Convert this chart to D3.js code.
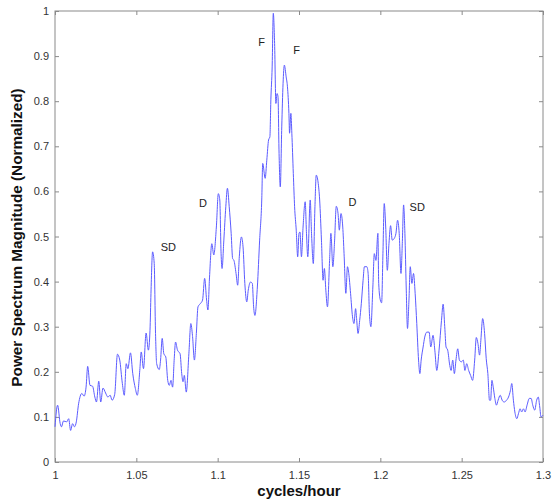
<!DOCTYPE html>
<html>
<head>
<meta charset="utf-8">
<script src="https://cdn.jsdelivr.net/npm/d3@7"></script>
<style>
  html, body { margin: 0; padding: 0; background: #fff; }
  svg { display: block; }
  text { font-family: Arial, "Liberation Sans", sans-serif; }
</style>
</head>
<body>
<div id="chart"></div>
<script>
// Frequency (cycles/hour) samples of the normalized power spectrum
const freq = [
  1.0000,1.0016,1.0032,1.0040,1.0052,1.0072,1.0084,1.0096,1.0108,1.0120,1.0131,1.0145,1.0165,1.0179,1.0191,1.0201,
  1.0215,1.0231,1.0245,1.0255,1.0269,1.0281,1.0295,1.0311,1.0325,1.0339,1.0351,1.0367,1.0384,1.0398,1.0414,1.0426,
  1.0438,1.0448,1.0464,1.0478,1.0494,1.0506,1.0522,1.0530,1.0544,1.0560,1.0574,1.0584,1.0590,1.0600,1.0610,1.0618,
  1.0625,1.0641,1.0649,1.0659,1.0669,1.0681,1.0693,1.0703,1.0713,1.0723,1.0733,1.0741,1.0753,1.0769,1.0779,1.0787,
  1.0795,1.0807,1.0823,1.0835,1.0845,1.0857,1.0869,1.0879,1.0893,1.0907,1.0920,1.0932,1.0940,1.0950,1.0964,1.0976,
  1.0992,1.1004,1.1013,1.1021,1.1027,1.1038,1.1050,1.1060,1.1071,1.1083,1.1092,1.1100,1.1113,1.1123,1.1133,1.1146,
  1.1156,1.1167,1.1179,1.1188,1.1202,1.1213,1.1221,1.1229,1.1244,1.1258,1.1271,1.1277,1.1292,1.1302,1.1313,1.1321,
  1.1327,1.1335,1.1342,1.1350,1.1358,1.1365,1.1371,1.1377,1.1385,1.1394,1.1402,1.1410,1.1421,1.1429,1.1438,1.1442,
  1.1450,1.1456,1.1465,1.1473,1.1483,1.1492,1.1500,1.1506,1.1515,1.1525,1.1538,1.1546,1.1554,1.1569,1.1577,1.1588,
  1.1598,1.1606,1.1617,1.1627,1.1638,1.1648,1.1656,1.1665,1.1675,1.1688,1.1696,1.1708,1.1719,1.1729,1.1740,1.1748,
  1.1758,1.1769,1.1777,1.1788,1.1798,1.1806,1.1817,1.1829,1.1838,1.1848,1.1854,1.1863,1.1873,1.1883,1.1894,1.1902,
  1.1917,1.1925,1.1933,1.1942,1.1954,1.1963,1.1973,1.1985,1.1990,1.2000,1.2008,1.2016,1.2024,1.2033,1.2043,1.2053,
  1.2063,1.2073,1.2086,1.2096,1.2106,1.2116,1.2127,1.2135,1.2143,1.2151,1.2159,1.2167,1.2176,1.2184,1.2194,1.2204,
  1.2214,1.2224,1.2235,1.2243,1.2251,1.2263,1.2273,1.2286,1.2300,1.2310,1.2324,1.2335,1.2347,1.2361,1.2376,1.2386,
  1.2396,1.2404,1.2414,1.2427,1.2435,1.2445,1.2455,1.2465,1.2476,1.2486,1.2498,1.2510,1.2520,1.2531,1.2543,1.2555,
  1.2567,1.2580,1.2590,1.2600,1.2610,1.2618,1.2629,1.2641,1.2651,1.2661,1.2671,1.2678,1.2686,1.2694,1.2704,1.2714,
  1.2724,1.2737,1.2749,1.2761,1.2776,1.2788,1.2800,1.2808,1.2818,1.2827,1.2839,1.2849,1.2859,1.2869,1.2880,1.2890,
  1.2902,1.2916,1.2927,1.2937,1.2949,1.2961,1.2971,1.2980,1.2988,1.3000
];

// Normalized power spectrum magnitude at each frequency
const magnitude = [
  0.078,0.126,0.085,0.078,0.091,0.089,0.096,0.070,0.085,0.078,0.089,0.129,0.152,0.146,0.166,0.212,
  0.170,0.168,0.144,0.133,0.179,0.133,0.164,0.153,0.144,0.148,0.137,0.150,0.239,0.226,0.174,0.148,
  0.218,0.207,0.242,0.196,0.163,0.148,0.207,0.244,0.207,0.286,0.248,0.292,0.374,0.466,0.440,0.285,
  0.218,0.205,0.226,0.274,0.240,0.233,0.181,0.170,0.181,0.166,0.229,0.266,0.248,0.240,0.196,0.178,
  0.192,0.155,0.240,0.307,0.281,0.226,0.285,0.344,0.351,0.359,0.407,0.359,0.337,0.410,0.484,0.459,
  0.521,0.595,0.581,0.462,0.429,0.492,0.566,0.607,0.566,0.507,0.451,0.447,0.418,0.392,0.455,0.499,
  0.477,0.396,0.355,0.381,0.399,0.396,0.344,0.325,0.388,0.492,0.581,0.662,0.629,0.669,0.714,0.721,
  0.803,0.876,0.995,0.928,0.795,0.817,0.810,0.692,0.610,0.743,0.839,0.880,0.854,0.832,0.773,0.729,
  0.773,0.729,0.640,0.566,0.514,0.455,0.507,0.510,0.455,0.521,0.577,0.507,0.455,0.581,0.507,0.440,
  0.566,0.636,0.621,0.581,0.492,0.403,0.429,0.381,0.344,0.447,0.507,0.433,0.492,0.567,0.551,0.514,
  0.551,0.521,0.462,0.374,0.433,0.418,0.374,0.322,0.307,0.340,0.318,0.285,0.314,0.351,0.403,0.433,
  0.433,0.418,0.329,0.300,0.388,0.462,0.447,0.507,0.396,0.359,0.353,0.462,0.573,0.521,0.425,0.484,
  0.524,0.492,0.496,0.507,0.536,0.507,0.418,0.484,0.570,0.507,0.388,0.296,0.359,0.433,0.396,0.418,
  0.374,0.307,0.226,0.196,0.226,0.255,0.277,0.288,0.288,0.255,0.281,0.248,0.203,0.248,0.314,0.350,
  0.300,0.255,0.248,0.214,0.203,0.226,0.196,0.226,0.251,0.226,0.222,0.226,0.203,0.218,0.203,0.192,
  0.181,0.226,0.276,0.263,0.237,0.270,0.318,0.285,0.229,0.196,0.137,0.137,0.181,0.166,0.141,0.126,
  0.137,0.148,0.137,0.133,0.137,0.144,0.159,0.174,0.137,0.111,0.096,0.107,0.118,0.111,0.118,0.111,
  0.126,0.141,0.141,0.126,0.115,0.137,0.144,0.122,0.100,0.104
];

// Tidal constituent annotations
const peakLabels = ["SD", "D", "F", "F", "D", "SD"];
const peakLabelFreq = [1.0650, 1.0885, 1.1250, 1.1465, 1.1805, 1.2180];
const peakLabelMag = [0.477, 0.573, 0.930, 0.913, 0.577, 0.564];

const xTicks = [1, 1.05, 1.1, 1.15, 1.2, 1.25, 1.3];
const yTicks = [0, 0.1, 0.2, 0.3, 0.4, 0.5, 0.6, 0.7, 0.8, 0.9, 1];

const W = 560, H = 504;
const margin = { left: 55, right: 17, top: 11, bottom: 42 };
const iw = W - margin.left - margin.right;
const ih = H - margin.top - margin.bottom;

const svg = d3.select("#chart").append("svg")
  .attr("width", W).attr("height", H);

const x = d3.scaleLinear().domain([1, 1.3]).range([0, iw]);
const y = d3.scaleLinear().domain([0, 1]).range([ih, 0]);

const g = svg.append("g").attr("transform", `translate(${margin.left},${margin.top})`);

const frameColor = "#8a8a8a";
const tickText = "#333";

// Inward ticks on all four sides, MATLAB style
const tickLen = 4;
const styleAxis = sel => {
  sel.select(".domain").remove();
  sel.selectAll(".tick line").attr("stroke", frameColor);
  sel.selectAll(".tick text").attr("fill", tickText).style("font-size", "11px");
};

g.append("g").attr("transform", `translate(0,${ih})`)
  .call(d3.axisBottom(x).tickValues(xTicks).tickSizeInner(-tickLen).tickSizeOuter(0)
    .tickPadding(9).tickFormat(d3.format("~g")))
  .call(styleAxis);

g.append("g")
  .call(d3.axisTop(x).tickValues(xTicks).tickSizeInner(-tickLen).tickSizeOuter(0).tickFormat(""))
  .call(styleAxis);

g.append("g")
  .call(d3.axisLeft(y).tickValues(yTicks).tickSizeInner(-tickLen).tickSizeOuter(0)
    .tickPadding(6).tickFormat(d3.format("~g")))
  .call(styleAxis);

g.append("g").attr("transform", `translate(${iw},0)`)
  .call(d3.axisRight(y).tickValues(yTicks).tickSizeInner(-tickLen).tickSizeOuter(0).tickFormat(""))
  .call(styleAxis);

// Plot frame
g.append("rect")
  .attr("x", 0).attr("y", 0).attr("width", iw).attr("height", ih)
  .attr("fill", "none").attr("stroke", frameColor).attr("stroke-width", 1);

// Spectrum line
const series = freq.map((f, i) => ({ f, m: magnitude[i] }));
const line = d3.line()
  .x(d => x(d.f))
  .y(d => y(d.m))
  .curve(d3.curveMonotoneX);

g.append("path")
  .datum(series)
  .attr("d", line)
  .attr("fill", "none")
  .attr("stroke", "#5c5cff")
  .attr("stroke-width", 1);

// Constituent labels
g.selectAll(".peak-label")
  .data(peakLabels)
  .join("text")
  .attr("class", "peak-label")
  .attr("x", (d, i) => x(peakLabelFreq[i]))
  .attr("y", (d, i) => y(peakLabelMag[i]))
  .attr("dy", "0.35em")
  .attr("fill", "#222")
  .style("font-size", "11px")
  .text(d => d);

// Axis titles
svg.append("text")
  .attr("x", margin.left + iw / 2)
  .attr("y", H - 8)
  .attr("text-anchor", "middle")
  .attr("fill", "#111")
  .style("font-size", "15px")
  .style("font-weight", "bold")
  .text("cycles/hour");

svg.append("text")
  .attr("transform", `translate(22,${margin.top + ih / 2 + 1}) rotate(-90)`)
  .attr("text-anchor", "middle")
  .attr("fill", "#111")
  .style("font-size", "15.3px")
  .style("font-weight", "bold")
  .text("Power Spectrum Magnitude (Normalized)");
</script>
</body>
</html>
